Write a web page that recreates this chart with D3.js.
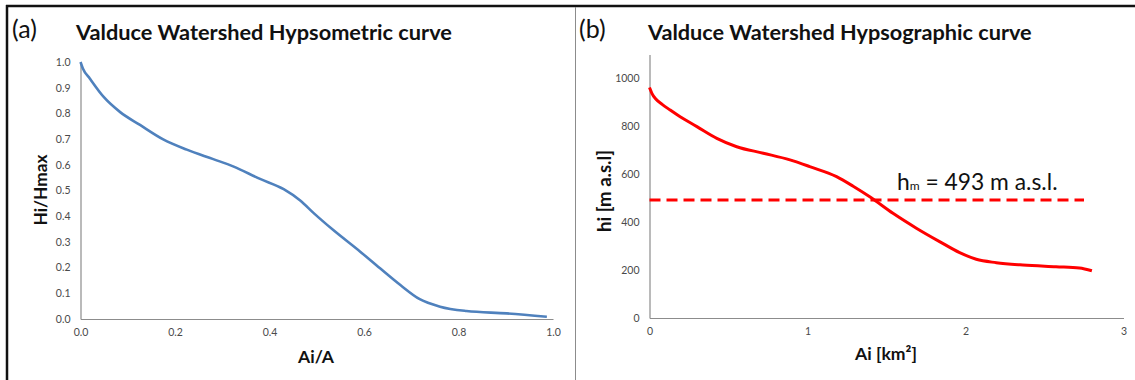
<!DOCTYPE html>
<html><head><meta charset="utf-8">
<script src="https://cdn.jsdelivr.net/npm/d3@7"></script>
<style>body{margin:0;background:#fff}svg{display:block}</style>
</head><body>
<script>
// ---- data: panel (a) hypsometric curve ----
const areaRatio   = [0, 0.005, 0.02, 0.05, 0.084, 0.126, 0.175, 0.225, 0.281, 0.323, 0.38, 0.43, 0.465, 0.493, 0.535, 0.592, 0.634, 0.677, 0.718, 0.761, 0.817, 0.902, 0.987];
const heightRatio = [1.0, 0.975, 0.935, 0.862, 0.805, 0.755, 0.699, 0.659, 0.622, 0.594, 0.545, 0.505, 0.461, 0.413, 0.346, 0.262, 0.197, 0.132, 0.077, 0.048, 0.031, 0.022, 0.009];
// ---- data: panel (b) hypsographic curve ----
const areaKm2   = [0, 0.015, 0.04, 0.08, 0.131, 0.194, 0.30, 0.426, 0.552, 0.72, 0.889, 1.014, 1.184, 1.289, 1.394, 1.541, 1.689, 1.836, 1.963, 2.068, 2.195, 2.363, 2.573, 2.721, 2.80];
const elevation = [962, 938, 914, 892, 868, 840, 799, 750, 715, 688, 660, 632, 590, 550, 506, 437, 375, 319, 273, 245, 231, 221, 214, 209, 197];
const meanElevation = 493;
const meanLineEnd = 2.75;
// ---- ticks / texts ----
const ticksAy = [0,0.1,0.2,0.3,0.4,0.5,0.6,0.7,0.8,0.9,1.0];
const ticksAx = [0,0.2,0.4,0.6,0.8,1.0];
const ticksBy = [0,200,400,600,800,1000];
const ticksBx = [0,1,2,3];
const titleA = "Valduce Watershed Hypsometric curve";
const titleB = "Valduce Watershed Hypsographic curve";

const W = 1135, H = 380;
const svg = d3.select("body").append("svg").attr("width", W).attr("height", H);
const FONT = "Lato, 'Open Sans', sans-serif";

// frame lines
svg.append("line").attr("x1",6).attr("x2",W).attr("y1",6).attr("y2",6).attr("stroke","#111").attr("stroke-width",2.5);
svg.append("line").attr("x1",7).attr("x2",7).attr("y1",5).attr("y2",H).attr("stroke","#111").attr("stroke-width",2.5);
svg.append("line").attr("x1",575.5).attr("x2",575.5).attr("y1",7).attr("y2",H).attr("stroke","#8c8c8c").attr("stroke-width",1);

function fit(sel, w){
  const l = sel.node().getComputedTextLength();
  const fs = parseFloat(sel.attr("font-size"));
  sel.attr("font-size", fs * w / l);
  return sel;
}

// scales
const xA = d3.scaleLinear().domain([0,1]).range([80.5,553]);
const yA = d3.scaleLinear().domain([0,1]).range([319,62]);
const xB = d3.scaleLinear().domain([0,3]).range([649.5,1123.5]);
const yB = d3.scaleLinear().domain([0,1100]).range([318,54.5]);

function styleAxis(g){
  g.select(".domain").attr("stroke","#8c8c8c").attr("stroke-width",1.2);
  g.selectAll(".tick line").remove();
  g.selectAll(".tick text").attr("fill","#4a4a4a").attr("font-size",10.5).attr("font-family",FONT);
}

// panel (a)
const gA = svg.append("g");
gA.append("g").attr("transform",`translate(${xA.range()[0]},0)`)
  .call(d3.axisLeft(yA).tickValues(ticksAy).tickFormat(d3.format(".1f")).tickSize(0).tickPadding(10))
  .call(styleAxis);
gA.append("g").attr("transform",`translate(0,${yA(0)})`)
  .call(d3.axisBottom(xA).tickValues(ticksAx).tickFormat(d3.format(".1f")).tickSize(0).tickPadding(10))
  .call(styleAxis);
gA.append("path")
  .datum(areaRatio.map((a,i)=>[a,heightRatio[i]]))
  .attr("d", d3.line().x(d=>xA(d[0])).y(d=>yA(d[1])).curve(d3.curveMonotoneX))
  .attr("fill","none").attr("stroke","#4f81bd").attr("stroke-width",2.6).attr("stroke-linejoin","round");

svg.append("text").attr("x",12).attr("y",38).attr("font-family",FONT).attr("font-size",25).attr("fill","#111").text("(a)");
fit(svg.append("text").attr("x",76).attr("y",40).attr("font-family",FONT).attr("font-weight","bold").attr("font-size",21).attr("fill","#111").text(titleA), 376);
fit(svg.append("text").attr("text-anchor","middle").attr("transform","translate(46.5,190) rotate(-90)").attr("font-family",FONT).attr("font-weight","bold").attr("font-size",16).attr("fill","#111").text("Hi/Hmax"), 71);
fit(svg.append("text").attr("text-anchor","middle").attr("x",316).attr("y",363).attr("font-family",FONT).attr("font-weight","bold").attr("font-size",16).attr("fill","#111").text("Ai/A"), 36);

// panel (b)
const gB = svg.append("g");
gB.append("g").attr("transform",`translate(${xB.range()[0]},0)`)
  .call(d3.axisLeft(yB).tickValues(ticksBy).tickFormat(d3.format("d")).tickSize(0).tickPadding(10).tickSizeOuter(0))
  .call(styleAxis);
gB.append("g").attr("transform",`translate(0,${yB(0)})`)
  .call(d3.axisBottom(xB).tickValues(ticksBx).tickFormat(d3.format("d")).tickSize(0).tickPadding(10))
  .call(styleAxis);
gB.append("line")
  .attr("x1",xB(0)).attr("x2",xB(meanLineEnd)).attr("y1",yB(meanElevation)).attr("y2",yB(meanElevation))
  .attr("stroke","#ff0000").attr("stroke-width",3).attr("stroke-dasharray","11,6");
gB.append("path")
  .datum(areaKm2.map((a,i)=>[a,elevation[i]]))
  .attr("d", d3.line().x(d=>xB(d[0])).y(d=>yB(d[1])).curve(d3.curveMonotoneX))
  .attr("fill","none").attr("stroke","#ff0000").attr("stroke-width",3).attr("stroke-linejoin","round");

const hm = svg.append("text").attr("x",897).attr("y",190).attr("font-family",FONT).attr("font-size",20).attr("fill","#111");
hm.append("tspan").text("h");
hm.append("tspan").attr("font-size",12).text("m");
hm.append("tspan").text(" = " + meanElevation + " m a.s.l.");
fit(hm, 162);

svg.append("text").attr("x",579).attr("y",38).attr("font-family",FONT).attr("font-size",25).attr("fill","#111").text("(b)");
fit(svg.append("text").attr("x",648).attr("y",40).attr("font-family",FONT).attr("font-weight","bold").attr("font-size",21).attr("fill","#111").text(titleB), 384);
fit(svg.append("text").attr("text-anchor","middle").attr("transform","translate(610.5,191) rotate(-90)").attr("font-family",FONT).attr("font-weight","bold").attr("font-size",16).attr("fill","#111").text("hi [m a.s.l]"), 82);
fit(svg.append("text").attr("text-anchor","middle").attr("x",886).attr("y",360).attr("font-family",FONT).attr("font-weight","bold").attr("font-size",16).attr("fill","#111").text("Ai [km²]"), 62);
</script>
</body></html>
